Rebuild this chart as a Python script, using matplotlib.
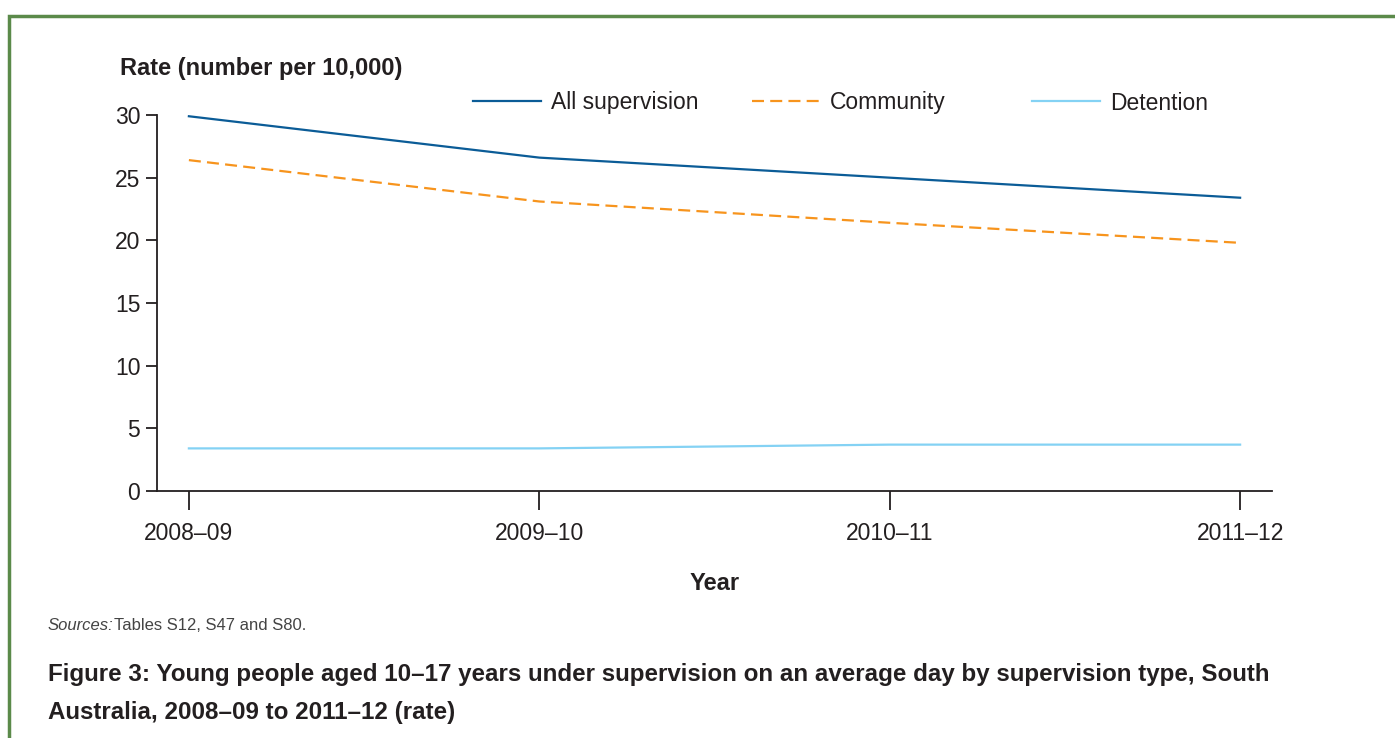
import matplotlib.pyplot as plt
from matplotlib.legend import Legend
from matplotlib.patches import Rectangle

years = ['2008–09', '2009–10', '2010–11', '2011–12']
all_supervision = [29.9, 26.6, 25.0, 23.4]
community = [26.4, 23.1, 21.4, 19.8]
detention = [3.4, 3.4, 3.7, 3.7]

plt.rcParams['font.family'] = ['Liberation Sans', 'DejaVu Sans']
ink = '#231f20'

fig = plt.figure(figsize=(13.95, 7.38), dpi=100)
ax = fig.add_axes([157 / 1395, 1 - 491 / 738, (1272 - 157) / 1395, (491 - 115) / 738])

x = range(len(years))
l1, = ax.plot(x, all_supervision, color='#0b5c97', lw=1.6, label='All supervision')
l2, = ax.plot(x, community, color='#f7941d', lw=1.6, ls=(0, (5.4, 2.8)), label='Community')
l3, = ax.plot(x, detention, color='#84d2f4', lw=1.6, label='Detention')

ax.set_xlim(-0.091, 3.091)
ax.set_ylim(0, 30)
ax.set_yticks([0, 5, 10, 15, 20, 25, 30])
ax.set_xticks(list(x))
ax.set_xticklabels(years)
for s in ['top', 'right']:
    ax.spines[s].set_visible(False)
for s in ['left', 'bottom']:
    ax.spines[s].set_color(ink)
    ax.spines[s].set_linewidth(1.3)
ax.tick_params(axis='y', length=8, width=1.3, color=ink, labelsize=16.5, pad=4, labelcolor=ink)
ax.tick_params(axis='x', length=14, width=1.3, color=ink, labelsize=16.5, pad=8, labelcolor=ink)

ax.set_xlabel('Year', fontsize=17, fontweight='bold', labelpad=20, color=ink)
fig.text(120 / 1395, 1 - 68 / 738, 'Rate (number per 10,000)', fontsize=17, fontweight='bold',
         va='center', color=ink)

# legend entries sit at fixed spacing, one legend each
ly = 1 + (115 - 103) / (491 - 115)
for h, x0 in zip([l1, l2, l3], [473, 752, 1032]):
    lg = Legend(ax, [h], [h.get_label()], loc='center left',
                bbox_to_anchor=((x0 - 157) / (1272 - 157), ly),
                frameon=False, fontsize=16.5, handlelength=2.95, handletextpad=0.45,
                borderaxespad=0, borderpad=0, labelcolor=ink)
    ax.add_artist(lg)

# sources and caption
fig.text(48 / 1395, 1 - 625 / 738, 'Sources:', fontsize=12, style='italic', va='center', color='#444444')
fig.text(114 / 1395, 1 - 625 / 738, 'Tables S12, S47 and S80.', fontsize=12, va='center', color='#444444')
fig.text(48 / 1395, 1 - 675 / 738,
         'Figure 3: Young people aged 10–17 years under supervision on an average day by supervision type, South',
         fontsize=17.4, fontweight='bold', va='center', color=ink)
fig.text(48 / 1395, 1 - 713 / 738, 'Australia, 2008–09 to 2011–12 (rate)',
         fontsize=17.4, fontweight='bold', va='center', color=ink)

# green frame
fig.patches.append(Rectangle((9 / 1395, -0.1), 1.2, 1 - 16 / 738 + 0.1, transform=fig.transFigure,
                             fill=False, edgecolor='#5b8a4a', lw=2.5))

fig.savefig('out.png', dpi=100)
